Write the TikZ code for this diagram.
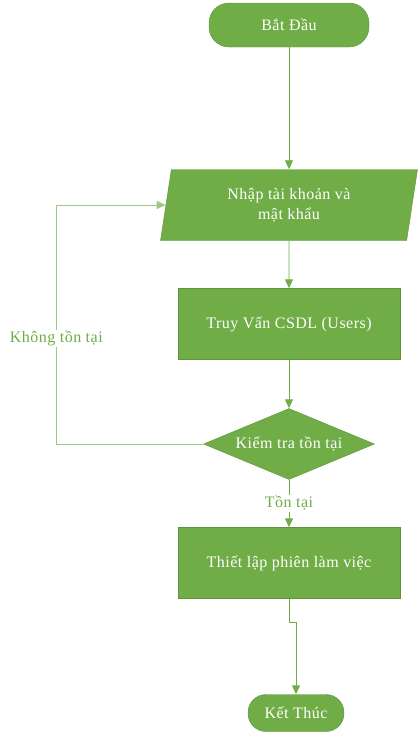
\documentclass[tikz,border=0pt]{standalone}
\usepackage{fontspec}
\setmainfont[LetterSpace=3]{Liberation Serif}
\usetikzlibrary{arrows.meta,shapes.geometric,positioning}
\definecolor{flowgreen}{HTML}{70AD47}
\definecolor{palegreen}{HTML}{A9D08E}
\begin{document}
\begin{tikzpicture}[x=1pt,y=-1pt,
    font=\fontsize{16}{20}\selectfont,
    box/.style={draw=flowgreen!85!black,fill=flowgreen,text=white,minimum width=222pt,minimum height=71pt},
    terminal/.style={draw=flowgreen!85!black,fill=flowgreen,text=white,rounded corners=20pt,minimum height=44pt},
    iobox/.style={draw=flowgreen!85!black,fill=flowgreen,text=white,trapezium,trapezium left angle=75,trapezium right angle=105,minimum height=71pt,minimum width=257pt,trapezium stretches body,align=center},
    check/.style={draw=flowgreen!85!black,fill=flowgreen,text=white,diamond,aspect=2.4,minimum width=171pt,minimum height=71pt,inner sep=0pt},
    link/.style={draw=flowgreen,line width=0.9pt,-{Triangle[length=9pt,width=8pt]}},
    tag/.style={fill=white,text=flowgreen,inner sep=1pt}]
    \useasboundingbox (0,0) rectangle (419,732);
            \node[terminal,minimum width=160pt] (start) at (289,25) {Bắt Đầu};
            \node[iobox] (input) at (289,205) {Nhập tài khoản và\\mật khẩu};
            \node[box] (query) at (289,324) {Truy Vấn CSDL (Users)};
            \node[check] (exists) at (289,444) {Kiểm tra tồn tại};
            \node[box] (session) at (289,563) {Thiết lập phiên làm việc};
            \node[terminal,minimum width=96pt,minimum height=37pt,rounded corners=18pt] (stop) at (296,713) {Kết Thúc};
            \draw[link] (start) -- (input);
            \draw[link] (input) -- (query);
            \draw[link] (query) -- (exists);
            \draw[link] (exists) -- node[tag] (yes) {Tồn tại} (session);
            \draw[link] (session.south) -- ++(0,24) -| (stop.north);
            \draw[link,draw=palegreen!80!flowgreen] (exists.west) -- ++(-147,0) |- node[tag,pos=0.22] (no) {Không tồn tại} (input);
        \end{tikzpicture}
\end{document}
